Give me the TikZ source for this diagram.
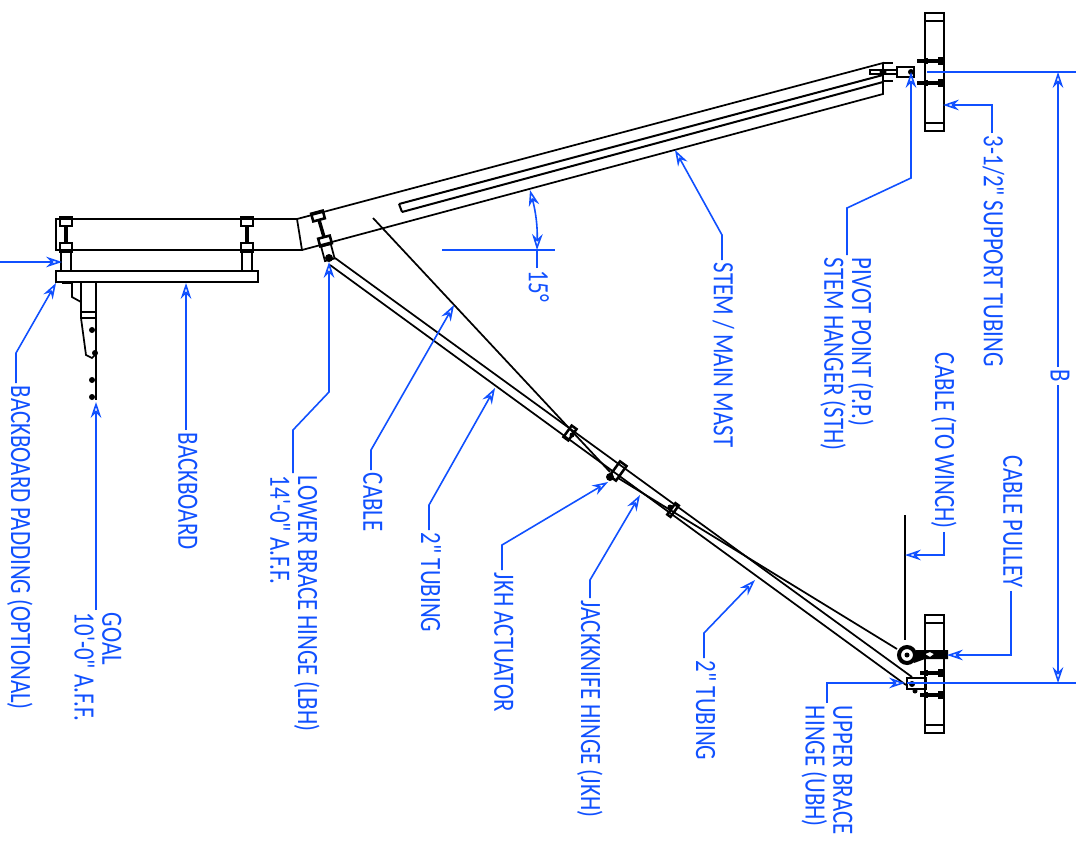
\documentclass[tikz,border=0pt]{standalone}
\usepackage{fontspec}
\newfontfamily\cadfont{Carlito}
\usepackage{xcolor}
\usetikzlibrary{arrows.meta}
\definecolor{dblue}{RGB}{16,80,255}

\begin{document}
\begin{tikzpicture}[x=.75pt,y=-.75pt]
  \tikzset{part/.style={draw=black,line width=1.3pt,line join=miter},
    heavy/.style={draw=black,line width=1.9pt},
    lbl/.style={text=dblue,rotate=-90,yscale=1.3,xscale=1.01,anchor=west,align=left,inner sep=2pt,text depth=2.3pt,font=\cadfont\fontsize{17}{16}\selectfont},
    leader/.style={draw=dblue,line width=1.2pt,-{Stealth[length=12pt,width=8pt,inset=4pt,open]}},
    extline/.style={draw=dblue,line width=1.2pt}}
  \useasboundingbox (0,0) rectangle (1091,842);

  % beam, stem and backboard
  \draw[part] (297,219) -- (56,219) -- (56,250) -- (302,250) -- cycle;
  \draw[part] (297,219) -- (883,63) -- (883,94) -- (302,250);
  \draw[draw=black,line width=1.5pt] (399,204) -- (883,75) (402,212) -- (883,82) (399,204) -- (402,212);
  \draw[heavy] (56,271) rectangle (258,282);
  \foreach \px in {66,247} {
    \draw[heavy] (\px-6,217) rectangle (\px+6,226);
    \draw[heavy] (\px-6,243) rectangle (\px+6,252);
    \draw[line width=2.6pt] (\px,226) -- (\px,243);
    \draw[part] (\px-5,252) -- (\px-5,271) (\px+5,252) -- (\px+5,271);
  }

  % goal
  \draw[part] (62,283) -- (72,283) -- (72,297) -- (81,302) -- (81,312) -- (81,283) (96,283) -- (96,312);
  \draw[part] (81,312) -- (96,312) -- (96,318) -- (81,318) -- cycle;
  \draw[part] (81,318) -- (86,355) -- (92,358) -- (96,354);
  \draw[line width=2.2pt] (96,312) -- (96,400);
  \fill (92,330) circle[radius=3] (95,353) circle[radius=3] (92,380) circle[radius=3] (92,397) circle[radius=3];

  % lower brace hinge
  \draw[heavy,shift={(318,216)},rotate=15] (-6,-4) rectangle (6,4);
  \draw[heavy,shift={(325,241)},rotate=15] (-6,-4) rectangle (6,4);
  \draw[line width=2.6pt] (319,220) -- (324,237);
  \draw[part,shift={(328,253)},rotate=15] (-5,-8) rectangle (5,7);
  \fill (329,258) circle[radius=4];

  % brace, cable and actuator
  \draw[part] (335,258) -- (912,677) (330,265) -- (906,685);
  \draw[part] (373,218) -- (610,472);
  \draw[part] (618,478) -- (897,649);
  \draw[heavy,shift={(570,433)},rotate=-36] (-3,-7) rectangle (3,7);
  \fill (572,435) circle[radius=2.5];
  \draw[heavy,shift={(618,471)},rotate=-36] (-4,-9) rectangle (4,9);
  \draw[heavy,shift={(673,510)},rotate=-36] (-2,-7) rectangle (2,7);
  \fill (670,507) circle[radius=2.5] (610,477) circle[radius=4];

  % support tubing
  \foreach \ty in {13,615} {
    \draw[heavy] (925,\ty) rectangle (944,\ty+118);
    \draw[part] (925,\ty+8) -- (944,\ty+8) (925,\ty+110) -- (944,\ty+110);
  }
  \foreach \bx/\by in {917/61,917/83,920/673,920/695} {
    \draw[line width=2.4pt] (\bx,\by) -- (942,\by);
    \fill (938,\by-4) rectangle (945,\by+4);
    \fill (924,\by-3) rectangle (928,\by+3);
  }

  % pivot and stem hanger
  \draw[heavy] (897,67) rectangle (914,77);
  \fill (911,72) circle[radius=3] (883,72) circle[radius=3.5];
  \draw[heavy] (870,70) rectangle (897,74);
  \draw[heavy] (883,63) -- (893,63) (883,81) -- (893,81);

  % upper brace hinge, pulley
  \draw[heavy] (907,678) rectangle (926,689);
  \fill (912,684) circle[radius=3] (915,691) circle[radius=2.5];
  \draw[part] (905,515) -- (905,640);
  \draw[line width=3pt] (907,655) circle[radius=8];
  \fill (907,655) circle[radius=2.5];
  \fill[even odd rule] (916,650) -- (948,650) -- (948,659) -- (925,659) -- (914,663) -- cycle (925,654) -- (930,652) -- (934,654) -- (930,657) -- cycle;

  % dimension lines
  \draw[extline] (927,72) -- (1076,72);
  \draw[extline] (907,683) -- (1076,683);
  \coordinate (tipBtop) at (1058,72);
  \coordinate (tipBbot) at (1058,683);
  \node[lbl] (lblB) at (1058,367) {B};
  \draw[leader] (lblB.west) -- (tipBtop);
  \draw[leader] (lblB.east) -- (tipBbot);
  \coordinate (tipEdge) at (62,262);
  \coordinate (freeEdge) at (0,262);
  \draw[leader] (freeEdge) -- (tipEdge);

  % labels and leaders
  \node[lbl] (lblPadding) at (20,383) {BACKBOARD PADDING (OPTIONAL)};
  \coordinate (tipPadding) at (56,283);
  \draw[leader] ([xshift=-3pt]lblPadding.west) -- (16,353) -- (tipPadding);

  \node[lbl] (lblGoal) at (96,610) {GOAL\\10'-0" A.F.F.};
  \coordinate (tipGoal) at (96,402);
  \draw[leader] (lblGoal.west) -- (tipGoal);

  \node[lbl] (lblBackboard) at (186,430) {BACKBOARD};
  \coordinate (tipBackboard) at (186,283);
  \draw[leader] (lblBackboard.west) -- (tipBackboard);

  \node[lbl] (lblLbh) at (293,473) {LOWER BRACE HINGE (LBH)\\14'-0" A.F.F.};
  \coordinate (tipLbh) at (329,262);
  \draw[leader] (lblLbh.west) -- (293,430) -- (329,392) -- (tipLbh);

  \node[lbl] (lblCable) at (371,470) {CABLE};
  \coordinate (tipCable) at (454,305);
  \draw[leader] (lblCable.west) -- (371,450) -- (tipCable);

  \node[lbl] (lblTubeA) at (429,530) {2" TUBING};
  \coordinate (tipTubeA) at (495,388);
  \draw[leader] (lblTubeA.west) -- (429,505) -- (tipTubeA);

  \node[lbl] (lblActuator) at (502,570) {JKH ACTUATOR};
  \coordinate (tipActuator) at (608,482);
  \draw[leader] (lblActuator.west) -- (502,545) -- (tipActuator);

  \node[lbl] (lblJkh) at (590,598) {JACKKNIFE HINGE (JKH)};
  \coordinate (tipJkh) at (640,495);
  \draw[leader] (lblJkh.west) -- (590,580) -- (tipJkh);

  \node[lbl] (lblTubeB) at (704,658) {2" TUBING};
  \coordinate (tipTubeB) at (755,580);
  \draw[leader] (lblTubeB.west) -- (704,633) -- (tipTubeB);

  \node[lbl] (lblUbh) at (827,703) {UPPER BRACE\\HINGE (UBH)};
  \coordinate (tipUbh) at (905,683);
  \draw[leader] (lblUbh.west) -- (827,683) -- (tipUbh);

  \node[lbl] (lblPulley) at (1011,453) {CABLE PULLEY};
  \coordinate (tipPulley) at (947,655);
  \draw[leader] (lblPulley.east) -- (1011,655) -- (tipPulley);
  \node[lbl] (lblWinch) at (944,350) {CABLE (TO WINCH)};
  \coordinate (tipWinch) at (905,555);
  \draw[leader] (lblWinch.east) -- (944,555) -- (tipWinch);

  \node[lbl] (lblPivot) at (847,255) {PIVOT POINT (P.P.)\\STEM HANGER (STH)};
  \coordinate (tipPivot) at (911,72);
  \draw[leader] (lblPivot.west) -- (847,208) -- (911,178) -- (tipPivot);

  \node[lbl] (lblMast) at (722,260) {STEM / MAIN MAST};
  \coordinate (tipMast) at (675,150);
  \draw[leader] (lblMast.west) -- (722,235) -- (tipMast);

  \node[lbl] (lblTubing) at (992,133) {3-1/2" SUPPORT TUBING};
  \coordinate (tipTubing) at (943,105);
  \draw[leader] (lblTubing.west) -- (992,105) -- (tipTubing);

  % angle
  \draw[extline] (442,250) -- (555,250);
  \node[lbl] (lblAngle) at (537,268) {15\textdegree};
  \coordinate (tipAngleA) at (537,250);
  \coordinate (tipAngleB) at (530,190);
  \draw[extline] (lblAngle.west) -- (tipAngleA);
  \draw[extline,{Stealth[length=12pt,width=8pt,inset=4pt,open]}-{Stealth[length=12pt,width=8pt,inset=4pt,open]}] (tipAngleA) to[bend right=8] (tipAngleB);
\end{tikzpicture}
\end{document}
